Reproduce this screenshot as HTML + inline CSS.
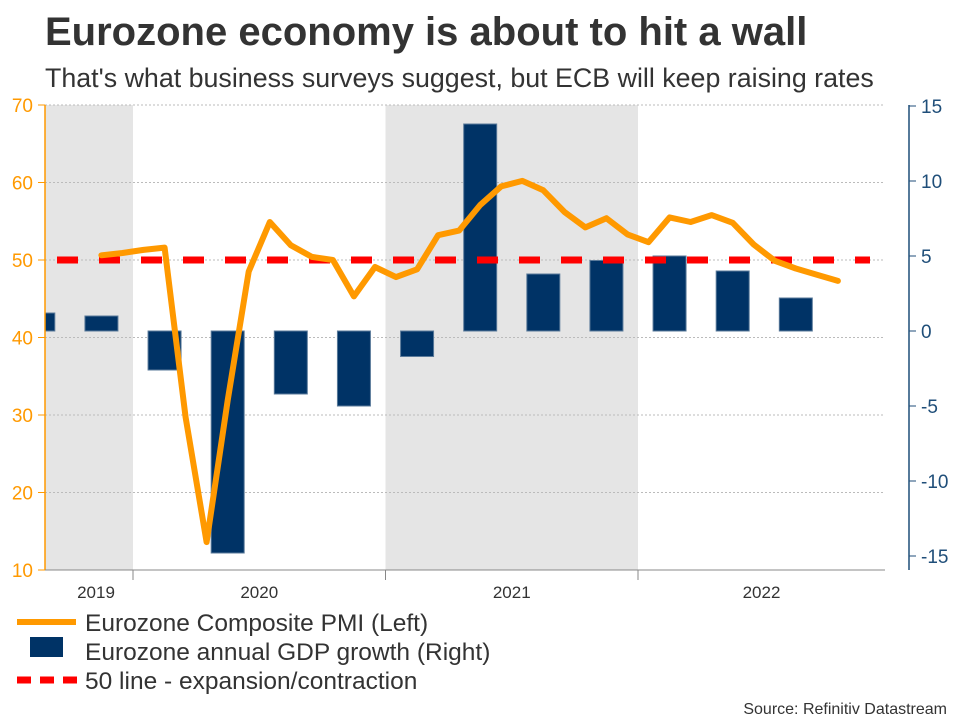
<!DOCTYPE html>
<html><head><meta charset="utf-8">
<style>
body{margin:0;background:#fff;width:960px;height:720px;overflow:hidden;font-family:"Liberation Sans",Arial,sans-serif;}
</style></head>
<body>
<svg id="chart" width="960" height="720" xmlns="http://www.w3.org/2000/svg" font-family="Liberation Sans, Arial, sans-serif">
<text x="45" y="45" font-size="40" font-weight="bold" fill="#333">Eurozone economy is about to hit a wall</text>
<text x="45" y="87" font-size="26.8" fill="#333">That's what business surveys suggest, but ECB will keep raising rates</text>
<g id="plot"></g>
<text x="947" y="714" font-size="16" fill="#333" text-anchor="end">Source: Refinitiv Datastream</text>
</svg>
<script>
const pmiMonths = ["2019-11","2019-12","2020-01","2020-02","2020-03","2020-04","2020-05","2020-06","2020-07","2020-08","2020-09","2020-10","2020-11","2020-12","2021-01","2021-02","2021-03","2021-04","2021-05","2021-06","2021-07","2021-08","2021-09","2021-10","2021-11","2021-12","2022-01","2022-02","2022-03","2022-04","2022-05","2022-06","2022-07","2022-08","2022-09","2022-10"];
const pmiValues = [50.6,50.9,51.3,51.6,29.7,13.6,31.9,48.5,54.9,51.9,50.4,50.0,45.3,49.1,47.8,48.8,53.2,53.8,57.1,59.5,60.2,59.0,56.2,54.2,55.4,53.3,52.3,55.5,54.9,55.8,54.8,52.0,49.9,48.9,48.1,47.3];
const gdpQuarters = ["2019-Q3","2019-Q4","2020-Q1","2020-Q2","2020-Q3","2020-Q4","2021-Q1","2021-Q2","2021-Q3","2021-Q4","2022-Q1","2022-Q2","2022-Q3"];
const gdpValues = [1.2,1.0,-2.6,-14.8,-4.2,-5.0,-1.7,13.8,3.8,4.7,5.0,4.0,2.2];
const leftTicks = [10,20,30,40,50,60,70];
const rightTicks = [-15,-10,-5,0,5,10,15];
const years = [2019,2020,2021,2022];
const refLine = 50;

const NS="http://www.w3.org/2000/svg";
const plot=document.getElementById('plot');
function mk(tag,attrs,parent){const e=document.createElementNS(NS,tag);for(const k in attrs)e.setAttribute(k,attrs[k]);(parent||plot).appendChild(e);return e;}
const X0=45,X1=885;
const yL=v=>105+(70-v)*(465/60);
const yR=v=>331-v*15;
const yearX=y=>133+(y-2020)*252.5;
const monthX=s=>{const [y,m]=s.split('-').map(Number);return yearX(y)+(m-0.5)*252.5/12;};
const qX=s=>{const y=+s.slice(0,4),q=+s.slice(6);return yearX(y)+(q-0.5)*252.5/4;};

const defs=mk('defs',{});
const cp=mk('clipPath',{id:'clip'},defs);mk('rect',{x:X0,y:100,width:X1-X0,height:475},cp);

[2019,2021].forEach(y=>{const x0=Math.max(X0,yearX(y)),x1=Math.min(X1,yearX(y+1));
const r=mk('rect',{x:x0,y:105,width:x1-x0,height:465,fill:'#e5e5e5'});

});
leftTicks.forEach(v=>{if(v===10)return;const l=mk('line',{x1:X0,x2:X1,y1:yL(v),y2:yL(v),stroke:'#bbb','stroke-dasharray':'2,2'});

});
const gb=mk('g',{'clip-path':'url(#clip)'});
gdpQuarters.forEach((q,i)=>{const cx=qX(q),v=gdpValues[i];const y0=yR(0),y1=yR(v);
const r=mk('rect',{x:cx-16.5,y:Math.min(y0,y1),width:33,height:Math.abs(y1-y0),fill:'#003366',stroke:'#5a7a9a','stroke-width':1},gb);

});
const rl=mk('line',{x1:57,x2:870,y1:yL(refLine),y2:yL(refLine),stroke:'#ff0000','stroke-width':7,'stroke-dasharray':'21,21'});


const pts=pmiMonths.map((m,i)=>monthX(m).toFixed(1)+','+yL(pmiValues[i]).toFixed(1)).join(' ');
const pl=mk('polyline',{points:pts,fill:'none',stroke:'#ff9900','stroke-width':6,'stroke-linejoin':'round','stroke-linecap':'round'});


mk('line',{x1:X0,x2:X0,y1:105,y2:570,stroke:'#ff9900','stroke-width':1.5});
mk('line',{x1:909,x2:909,y1:105,y2:570,stroke:'#1f4e79','stroke-width':1.5});
mk('line',{x1:X0,x2:X1,y1:570,y2:570,stroke:'#888','stroke-width':1});
leftTicks.forEach(v=>{mk('line',{x1:38,x2:X0,y1:yL(v),y2:yL(v),stroke:'#ff9900'});
const t=mk('text',{x:33,y:yL(v)+7,'font-size':19,fill:'#ff9900','text-anchor':'end'});t.textContent=v;

});
rightTicks.forEach(v=>{mk('line',{x1:909,x2:916,y1:yR(v),y2:yR(v),stroke:'#1f4e79'});
const t=mk('text',{x:921,y:yR(v)+7,'font-size':19,fill:'#1f4e79'});t.textContent=v;

});
[2020,2021,2022].forEach(y=>mk('line',{x1:yearX(y),x2:yearX(y),y1:570,y2:580,stroke:'#888'}));
years.forEach(y=>{const c=(Math.max(X0,yearX(y))+Math.min(X1,yearX(y+1)))/2;
const t=mk('text',{x:y===2019?96:c,y:598,'font-size':17,fill:'#333','text-anchor':'middle'});t.textContent=y;

});
const lg=mk('g',{});


mk('line',{x1:17,x2:76,y1:622,y2:622,stroke:'#ff9900','stroke-width':6},lg);
mk('rect',{x:30,y:637,width:33,height:20,fill:'#003366'},lg);
mk('line',{x1:17,x2:78,y1:680,y2:680,stroke:'#ff0000','stroke-width':7,'stroke-dasharray':'14,9'},lg);
[["Eurozone Composite PMI (Left)",631],["Eurozone annual GDP growth (Right)",660],["50 line - expansion/contraction",689]].forEach(([s,y])=>{
const t=mk('text',{x:85,y:y,'font-size':24.5,fill:'#333'},lg);t.textContent=s;

});
</script>
</body></html>
